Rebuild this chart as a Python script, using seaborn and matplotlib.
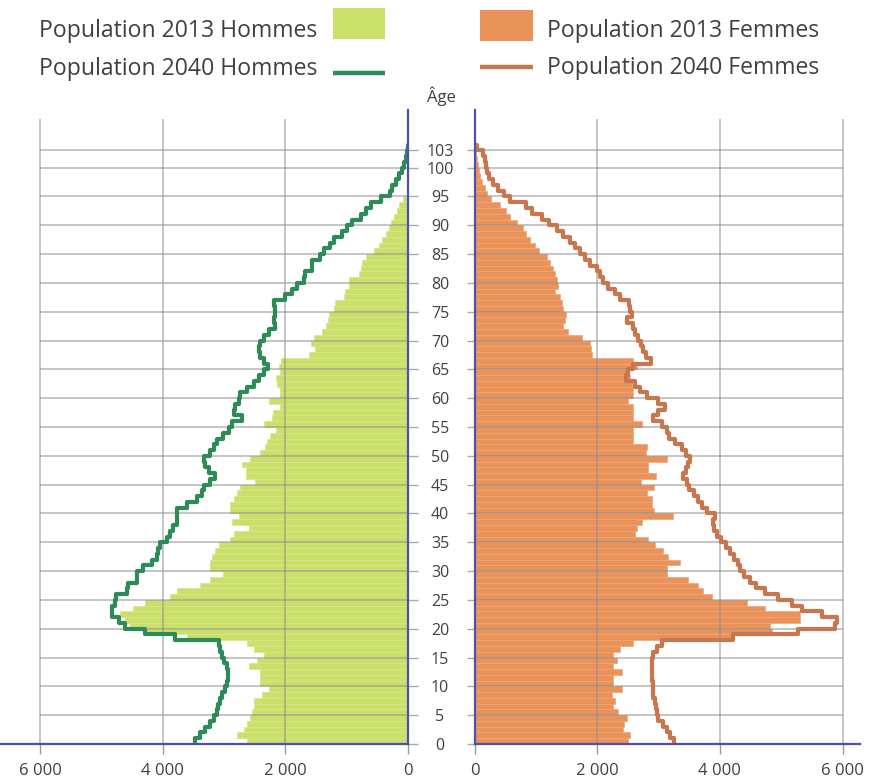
import numpy as np
import pandas as pd
import matplotlib
matplotlib.use("Agg")
import matplotlib.pyplot as plt
import seaborn as sns
from matplotlib.patches import Rectangle
from matplotlib.lines import Line2D

# ---------------- data ----------------
ages = list(range(0, 104))

hommes_2013 = [
    2630, 2790, 2680, 2630, 2570, 2545, 2520, 2520, 2380, 2270,
    2410, 2410, 2410, 2600, 2460, 2350, 2520, 2630, 3610, 4320,
    4535, 4615, 4700, 4480, 4290, 3880, 3770, 3390, 3230, 3020,
    3230, 3230, 3200, 3145, 3090, 2900, 2845, 2600, 2870, 2760,
    2900, 2900, 2845, 2790, 2740, 2490, 2650, 2650, 2710, 2570,
    2410, 2330, 2300, 2245, 2160, 2350, 2220, 2200, 2090, 2270,
    2090, 2090, 2140, 2160, 2090, 2110, 2070, 1620, 1510, 1590,
    1537, 1400, 1345, 1300, 1290, 1200, 1183, 1046, 1020, 965,
    965, 800, 774, 747, 692, 556, 474, 420, 365, 310,
    272, 229, 174, 147, 76, 20, 10, 8, 5, 3,
    2, 1, 1, 0]

hommes_2040 = [
    3472, 3390, 3308, 3226, 3172, 3117, 3107, 3074, 3036, 2981,
    2954, 2943, 2943, 2954, 3008, 3036, 3074, 3090, 3799, 4289,
    4616, 4709, 4834, 4834, 4780, 4763, 4589, 4562, 4425, 4425,
    4316, 4180, 4098, 4071, 4044, 3935, 3880, 3826, 3771, 3771,
    3771, 3608, 3444, 3363, 3335, 3226, 3145, 3254, 3308, 3335,
    3226, 3172, 3117, 3019, 2927, 2872, 2709, 2834, 2818, 2763,
    2736, 2627, 2518, 2436, 2354, 2290, 2354, 2410, 2436, 2410,
    2354, 2270, 2165, 2190, 2165, 2165, 2190, 2000, 1890, 1810,
    1700, 1673, 1564, 1564, 1430, 1373, 1265, 1210, 1075, 990,
    910, 774, 690, 610, 447, 294, 256, 200, 147, 93,
    65, 40, 20, 5]

femmes_2013 = [
    2506, 2533, 2424, 2435, 2478, 2342, 2261, 2288, 2234, 2397,
    2261, 2261, 2397, 2261, 2315, 2261, 2370, 2587, 4190, 4843,
    4815, 5305, 5305, 4734, 4435, 3864, 3729, 3647, 3484, 3130,
    3130, 3348, 3158, 3076, 2940, 2832, 2614, 2652, 2723, 3239,
    2924, 2886, 2886, 2804, 2924, 2707, 2957, 2832, 2832, 3130,
    2793, 2804, 2587, 2587, 2587, 2723, 2587, 2587, 2587, 2506,
    2587, 2587, 2560, 2533, 2478, 2641, 2587, 1908, 1891, 1880,
    1745, 1527, 1435, 1473, 1489, 1446, 1419, 1391, 1310, 1364,
    1337, 1310, 1283, 1228, 1174, 1054, 984, 902, 837, 794,
    685, 576, 511, 413, 261, 207, 168, 114, 87, 70,
    54, 33, 20, 5]

femmes_2040 = [
    3250, 3185, 3130, 3076, 2995, 2979, 2957, 2940, 2913, 2913,
    2902, 2886, 2886, 2886, 2886, 2913, 2968, 3049, 4218, 5277,
    5875, 5913, 5658, 5332, 5169, 4951, 4734, 4587, 4489, 4390,
    4320, 4300, 4230, 4163, 4098, 4011, 3946, 3902, 3891, 3919,
    3783, 3701, 3647, 3576, 3500, 3457, 3402, 3446, 3484, 3511,
    3446, 3375, 3266, 3174, 3130, 3049, 2902, 2995, 3103, 2995,
    2804, 2696, 2614, 2468, 2506, 2587, 2870, 2794, 2750, 2707,
    2669, 2614, 2587, 2478, 2560, 2533, 2522, 2370, 2288, 2179,
    2098, 2044, 1989, 1880, 1799, 1717, 1636, 1554, 1446, 1337,
    1217, 1092, 929, 837, 576, 478, 386, 304, 239, 207,
    185, 168, 130, 33]

x_ticks = [0, 2000, 4000, 6000]
x_tick_labels = ["0", "2 000", "4 000", "6 000"]
age_ticks = [0, 5, 10, 15, 20, 25, 30, 35, 40, 45, 50, 55, 60, 65, 70,
             75, 80, 85, 90, 95, 100, 103]
age_tick_labels = [str(a) for a in age_ticks]
legend_labels = ["Population 2013 Hommes", "Population 2040 Hommes",
                 "Population 2013 Femmes", "Population 2040 Femmes"]
axis_title = "Âge"

# ---------------- style ----------------
sns.set_theme(style="white")
plt.rcParams["font.family"] = ["Open Sans", "DejaVu Sans"]

GREEN_BAR = "#cbdf6b"
GREEN_EDGE = "#d6e68a"
GREEN_LINE = "#2e8b57"
ORANGE_BAR = "#e9925a"
ORANGE_EDGE = "#eea577"
ORANGE_LINE = "#c8764e"
AXIS_BLUE = "#4f4fae"
GRID = "#8c8c8c"
TEXT = "#404040"

W, H = 869, 780
fig = plt.figure(figsize=(W / 100, H / 100), dpi=100)


def fx(px):
    return px / W


def fy(py):
    return 1 - py / H


top_px, bot_px = 110, 744
axL = fig.add_axes([0, fy(bot_px), fx(408), (bot_px - top_px) / H])
axR = fig.add_axes([fx(474.7), fy(bot_px), fx(860 - 474.7), (bot_px - top_px) / H])

df = pd.DataFrame({"age": ages, "h13": hommes_2013, "h40": hommes_2040,
                   "f13": femmes_2013, "f40": femmes_2040})
df["mid"] = df["age"] + 0.5


def step_path(values):
    a = np.asarray(ages, dtype=float)
    yy = np.column_stack([a, a + 1]).ravel()
    xx = np.repeat(np.asarray(values, dtype=float), 2)
    return xx, yy


for ax, bar_col, line_col, bcolor, ecolor, lcolor in [
    (axL, "h13", "h40", GREEN_BAR, GREEN_EDGE, GREEN_LINE),
    (axR, "f13", "f40", ORANGE_BAR, ORANGE_EDGE, ORANGE_LINE),
]:
    sns.barplot(data=df, x=bar_col, y="mid", orient="y", native_scale=True,
                width=1.0, color=bcolor, saturation=1, errorbar=None,
                linewidth=0.5, edgecolor=ecolor, ax=ax, zorder=1)
    # grid lines (drawn faintly over bars, as in the reference)
    ax.hlines(age_ticks, 0, 6000, color=GRID, lw=1.4, alpha=0.5, zorder=2)
    ax.vlines([2000, 4000, 6000], 0, 108.5, color=GRID, lw=1.4, alpha=0.5, zorder=2)
    xx, yy = step_path(df[line_col])
    sns.lineplot(x=xx, y=yy, sort=False, estimator=None, color=lcolor,
                 lw=3.0, ax=ax, zorder=4)
    ax.set_ylim(0, 110)
    ax.set_xlabel("")
    ax.set_ylabel("")
    ax.set_xticks(x_ticks, x_tick_labels)
    ax.tick_params(axis="x", bottom=True, length=7, width=1, color="#999999",
                   labelsize=12, labelcolor=TEXT, pad=7)
    for s in ax.spines.values():
        s.set_visible(False)
    ax.spines["bottom"].set_visible(True)
    ax.spines["bottom"].set_color(AXIS_BLUE)
    ax.spines["bottom"].set_linewidth(1.6)
    ax.spines["bottom"].set_zorder(5)

# left panel
axL.set_xlim(6656, 0)
axL.yaxis.tick_right()
axL.set_yticks(age_ticks)
axL.set_yticklabels([])
axL.tick_params(axis="y", right=True, left=False, length=7, width=1, color="#aaaaaa")
axL.spines["right"].set_visible(True)
axL.spines["right"].set_color(AXIS_BLUE)
axL.spines["right"].set_linewidth(1.6)
axL.spines["right"].set_zorder(5)

# right panel
axR.set_xlim(0, 6285)
axR.yaxis.tick_left()
axR.set_yticks(age_ticks, age_tick_labels)
axR.tick_params(axis="y", left=True, right=False, length=5.5, width=1,
                color="#aaaaaa", labelsize=11.5, labelcolor=TEXT, pad=19.5)
for lab in axR.get_yticklabels():
    lab.set_horizontalalignment("center")
axR.spines["left"].set_visible(True)
axR.spines["left"].set_color(AXIS_BLUE)
axR.spines["left"].set_linewidth(1.6)
axR.spines["left"].set_zorder(5)

# axis title
fig.text(fx(441), fy(101.7), axis_title, ha="center", va="baseline",
         fontsize=12, color=TEXT)

# ---------------- legend ----------------
fs_leg = 16.6
fig.text(fx(317), fy(36.7), legend_labels[0], ha="right", va="baseline",
         fontsize=fs_leg, color=TEXT)
fig.text(fx(317), fy(75), legend_labels[1], ha="right", va="baseline",
         fontsize=fs_leg, color=TEXT)
fig.text(fx(547.3), fy(37.3), legend_labels[2], ha="left", va="baseline",
         fontsize=fs_leg, color=TEXT)
fig.text(fx(547.3), fy(74), legend_labels[3], ha="left", va="baseline",
         fontsize=fs_leg, color=TEXT)

fig.add_artist(Rectangle((fx(333), fy(39.3)), fx(385) - fx(333), (39.3 - 8.3) / H,
                         transform=fig.transFigure, facecolor=GREEN_BAR, edgecolor="none"))
fig.add_artist(Rectangle((fx(480), fy(40.7)), fx(532.7) - fx(480), (40.7 - 10) / H,
                         transform=fig.transFigure, facecolor=ORANGE_BAR, edgecolor="none"))
fig.add_artist(Line2D([fx(333), fx(385)], [fy(73), fy(73)], transform=fig.transFigure,
                      color=GREEN_LINE, lw=3.2, solid_capstyle="butt"))
fig.add_artist(Line2D([fx(480), fx(532.7)], [fy(66.7), fy(66.7)], transform=fig.transFigure,
                      color=ORANGE_LINE, lw=3.2, solid_capstyle="butt"))

fig.savefig("out.png", dpi=100)
